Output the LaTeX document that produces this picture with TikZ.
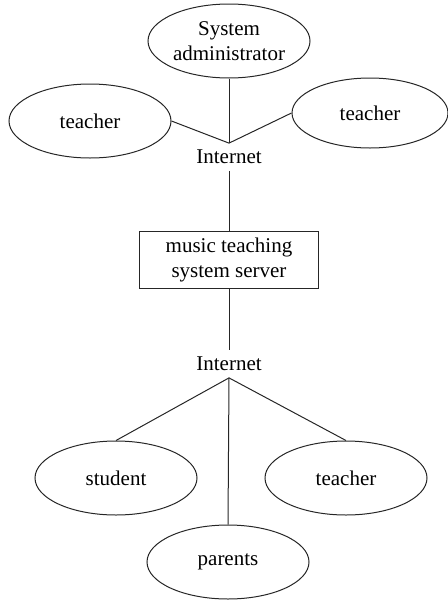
\documentclass[tikz,border=0pt]{standalone}
\usepackage{fontspec}
\setmainfont{Liberation Serif}
\usetikzlibrary{positioning,shapes.geometric}

\begin{document}
\begin{tikzpicture}[
            x=0.5pt, y=-0.5pt,
            font=\fontsize{10.5}{12.5}\selectfont,
            user/.style={
                draw=black!85,
                ellipse,
                align=center,
                inner sep=0pt,
                minimum width=81pt,
                minimum height=37pt,
                line width=0.5pt
            },
            server/.style={
                draw=black!85,
                rectangle,
                align=center,
                minimum width=89.5pt,
                minimum height=27.5pt,
                line width=0.5pt
            },
            net/.style={inner sep=3.25pt},
            link/.style={draw=black!85, line width=0.5pt}
        ]
        \useasboundingbox (0,0) rectangle (448,600);

        % Upper side: administrator and teachers
        \node[user] (admin) at (229,41) {System\\administrator};
        \node[user] (teacherL) at (90,121) {teacher};
        \node[user, minimum width=78pt, minimum height=35pt] (teacherR) at (370,113) {teacher};
        \node[net] (inetA) at (229,157) {Internet};

        % Central server
        \node[server] (srv) at (229,260) {music teaching\\system server};

        % Lower side: students, parents, teachers
        \node[net] (inetB) at (229,364) {Internet};
        \node[user] (student) at (116,478) {student};
        \node[user] (teacherB) at (346,478) {teacher};
        \node[user] (parents) at (228,562) {parents};

        % Links to the upper hub
        \draw[link] (admin.south) -- (inetA.north);
        \draw[link] (teacherL.east) -- (inetA.north);
        \draw[link] (teacherR.west) -- (inetA.north);

        % Main axis
        \draw[link] (inetA.south) -- (srv.north);
        \draw[link] (srv.south) -- (inetB.north);

        % Links from the lower hub
        \draw[link] (inetB.south) -- (student.north);
        \draw[link] (inetB.south) -- (teacherB.north);
        \draw[link] (inetB.south) -- (parents.north);
\end{tikzpicture}
\end{document}
